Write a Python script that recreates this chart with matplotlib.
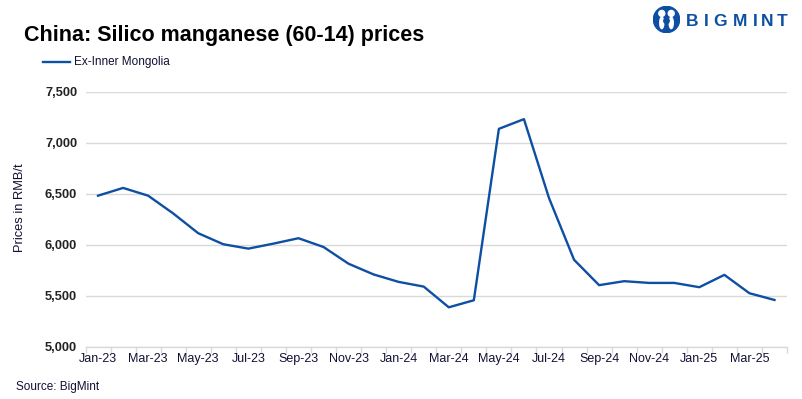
import matplotlib
matplotlib.use("Agg")
import matplotlib.pyplot as plt
from matplotlib.patches import Circle, Ellipse

months = ["Jan-23", "Feb-23", "Mar-23", "Apr-23", "May-23", "Jun-23", "Jul-23",
          "Aug-23", "Sep-23", "Oct-23", "Nov-23", "Dec-23", "Jan-24", "Feb-24",
          "Mar-24", "Apr-24", "May-24", "Jun-24", "Jul-24", "Aug-24", "Sep-24",
          "Oct-24", "Nov-24", "Dec-24", "Jan-25", "Feb-25", "Mar-25", "Apr-25"]
prices = [6483, 6559, 6483, 6309, 6115, 6007, 5964, 6013, 6066, 5980, 5816, 5711,
          5638, 5592, 5389, 5458, 7138, 7233, 6460, 5855, 5606, 5645, 5628, 5628,
          5586, 5707, 5527, 5461]
series_name = "Ex-Inner Mongolia"
yticks = [5000, 5500, 6000, 6500, 7000, 7500]

plt.rcParams['font.family'] = ['Liberation Sans', 'DejaVu Sans']

W, H = 802, 399
fig = plt.figure(figsize=(W / 100, H / 100), dpi=100)

left, right, top, bottom = 85.5, 787.0, 91.9, 347.0
ax = fig.add_axes([left / W, 1 - bottom / H, (right - left) / W, (bottom - top) / H])

line_color = "#0d4fa3"
x = list(range(len(months)))
ax.plot(x, prices, color=line_color, lw=1.7, solid_joinstyle="round")

ax.set_xlim(-0.5, len(months) - 0.5)
ax.set_ylim(5000, 7500)
ax.set_yticks(yticks)
ax.set_yticklabels([f"{v:,}" for v in yticks], fontsize=9.3, fontweight="bold", color="#222222")
ax.yaxis.grid(True, color="#d9d9d9", lw=1)
ax.set_axisbelow(True)
ax.tick_params(axis="y", length=0, pad=6)

# major ticks at category boundaries, labels every 2nd category
ax.set_xticks([i - 0.5 for i in range(len(months) + 1)])
ax.set_xticklabels([])
ax.set_xticks(x[::2], minor=True)
ax.set_xticklabels(months[::2], minor=True, fontsize=9, color="#111133")
ax.tick_params(axis="x", which="major", length=4, color="#d9d9d9", width=1)
ax.tick_params(axis="x", which="minor", length=0, pad=4.5)

for s in ["top", "right", "left"]:
    ax.spines[s].set_visible(False)
ax.spines["bottom"].set_color("#d9d9d9")
ax.spines["bottom"].set_linewidth(1)

fig.text(20 / W, 1 - 208 / H, "Prices in RMB/t", rotation=90, ha="center", va="center",
         fontsize=9.3, color="#111133")

fig.text(24 / W, 1 - 36 / H, "China: Silico manganese (60-14) prices", fontsize=15.5,
         fontweight="bold", ha="left", va="center", color="#000000")

# legend
fig.add_artist(plt.Line2D([43 / W, 70 / W], [1 - 62 / H, 1 - 62 / H], color=line_color, lw=1.7))
fig.text(74 / W, 1 - 62.5 / H, series_name, fontsize=8.5, ha="left", va="center", color="#111133")

fig.text(16 / W, 1 - 387 / H, "Source: BigMint", fontsize=8.5, ha="left", va="center", color="#111133")

# logo
logo_color = "#0d4fa3"
lax = fig.add_axes([653 / W, 1 - 33 / H, 27 / W, 27 / H])
lax.set_xlim(-1, 1)
lax.set_ylim(-1, 1)
lax.set_aspect("equal")
lax.axis("off")
lax.add_patch(Circle((0, 0), 0.97, color=logo_color))
lax.add_patch(Circle((-0.35, 0.45), 0.22, color="white"))
lax.add_patch(Circle((0.35, 0.45), 0.22, color="white"))
lax.add_patch(Ellipse((-0.35, -0.25), 0.3, 0.85, color="white"))
lax.add_patch(Ellipse((0.35, -0.25), 0.3, 0.85, color="white"))
lax.add_patch(Circle((0, -0.1), 0.2, color=logo_color))
for ch, cxp in zip("BIGMINT", [692.5, 706, 720, 740, 755, 767.5, 782]):
    fig.text(cxp / W, 1 - 21 / H, ch, fontsize=12.5, fontweight="bold",
             ha="center", va="center", color=logo_color)

fig.savefig("out.png", dpi=100)
